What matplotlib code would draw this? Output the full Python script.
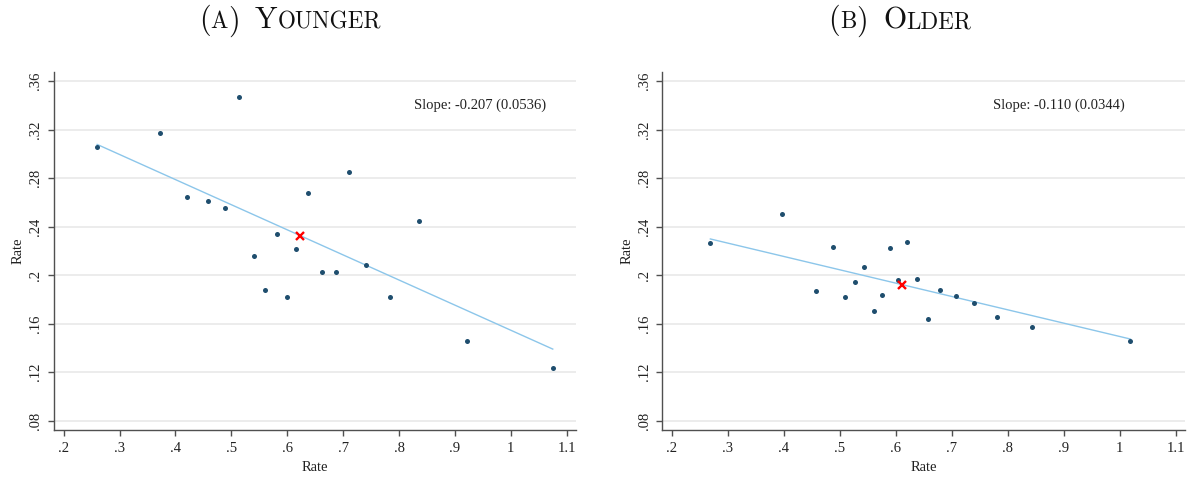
import numpy as np
import matplotlib
matplotlib.use("Agg")
import matplotlib.pyplot as plt
from matplotlib.offsetbox import TextArea, HPacker, DrawingArea, AnchoredOffsetbox

# ---------------- data ----------------
young_x = [0.260, 0.373, 0.514, 0.420, 0.458, 0.488, 0.710, 0.638, 0.836, 0.582,
           0.540, 0.616, 0.741, 0.662, 0.688, 0.560, 0.600, 0.783, 0.921, 1.075]
young_y = [0.3056, 0.3169, 0.3465, 0.2644, 0.2608, 0.2553, 0.2850, 0.2677, 0.2446, 0.2336,
           0.2155, 0.2212, 0.2083, 0.2025, 0.2023, 0.1874, 0.1822, 0.1817, 0.1457, 0.1234]
old_x = [0.269, 0.3975, 0.488, 0.458, 0.5095, 0.5273, 0.544, 0.5607, 0.575, 0.5904,
         0.6047, 0.6202, 0.638, 0.6571, 0.6786, 0.7077, 0.7398, 0.7815, 0.8429, 1.019]
old_y = [0.2262, 0.2504, 0.2234, 0.1866, 0.1817, 0.1943, 0.2069, 0.1701, 0.1838, 0.2221,
         0.1959, 0.2275, 0.1965, 0.1640, 0.1880, 0.1828, 0.1770, 0.1652, 0.1572, 0.1454]
slopes = [-0.207, -0.110]
slope_ses = [0.0536, 0.0344]
panel_letters = ["A", "B"]
panel_names = ["Younger", "Older"]
x_ticks = [0.2, 0.3, 0.4, 0.5, 0.6, 0.7, 0.8, 0.9, 1.0, 1.1]
x_tick_labels = [".2", ".3", ".4", ".5", ".6", ".7", ".8", ".9", "1", "1.1"]
y_ticks = [0.08, 0.12, 0.16, 0.20, 0.24, 0.28, 0.32, 0.36]
y_tick_labels = [".08", ".12", ".16", ".2", ".24", ".28", ".32", ".36"]
axis_label = "Rate"

# ---------------- style ----------------
W, H = 1193, 482
fig = plt.figure(figsize=(W / 100, H / 100), dpi=100)
serif = "Liberation Serif"
dot_color = "#1f4e6e"
line_color = "#8cc6ea"
spine_color = "#505050"
grid_color = "#ebebeb"

axes_px = [(53.5, 71.7, 576.0, 430.0), (662.3, 71.7, 1185.0, 430.0)]
xlims = [(0.1818, 1.1166), (0.1832, 1.1166)]
ylim = (0.0723, 0.3677)
text_right_x = [1.0628, 1.0095]
title_cx = [290, 900]

datasets = [(young_x, young_y), (old_x, old_y)]

for i, ((x0, y0, x1, y1), (xs, ys)) in enumerate(zip(axes_px, datasets)):
    ax = fig.add_axes([x0 / W, 1 - y1 / H, (x1 - x0) / W, (y1 - y0) / H])
    xs = np.asarray(xs); ys = np.asarray(ys)
    mx, my = xs.mean(), ys.mean()
    lx = np.array([xs.min(), xs.max()])
    ax.plot(lx, my + slopes[i] * (lx - mx), color=line_color, lw=1.0, zorder=2)
    ax.scatter(xs, ys, s=13, color=dot_color, zorder=3, linewidths=0)
    ax.plot([mx], [my], marker="x", color="red", ms=5.5, mew=1.7,
            linestyle="none", zorder=4)
    ax.set_xlim(*xlims[i]); ax.set_ylim(*ylim)
    ax.set_xticks(x_ticks); ax.set_xticklabels(x_tick_labels)
    ax.set_yticks(y_ticks); ax.set_yticklabels(y_tick_labels)
    ax.yaxis.grid(True, color=grid_color, lw=1.3, zorder=0)
    ax.set_axisbelow(True)
    for s in ["top", "right"]:
        ax.spines[s].set_visible(False)
    for s in ["left", "bottom"]:
        ax.spines[s].set_color(spine_color)
        ax.spines[s].set_linewidth(1.0)
    ax.tick_params(axis="both", direction="out", length=4.3, width=1.0,
                   color=spine_color, labelsize=10.5, labelcolor="#222222", pad=4)
    for lab in ax.get_xticklabels() + ax.get_yticklabels():
        lab.set_fontfamily(serif)
    for lab in ax.get_yticklabels():
        lab.set_rotation(90)
        lab.set_va("center")
        lab.set_ha("right")
    ax.set_xlabel(axis_label, fontfamily=serif, fontsize=10.5, color="#222222", labelpad=5)
    ax.set_ylabel(axis_label, fontfamily=serif, fontsize=10.5, color="#222222", labelpad=3)
    ax.text(text_right_x[i], 0.3402,
            f"Slope: {slopes[i]:.3f} ({slope_ses[i]:.4f})", ha="right", va="center",
            fontfamily=serif, fontsize=10.5, color="#222222")

    # small-caps title
    big = dict(fontsize=21.5, fontfamily="cmr10", color="#111111")
    small = dict(fontsize=16.7, fontfamily="cmr10", color="#111111")
    name = panel_names[i]
    parts = [TextArea("(", textprops=big), TextArea(panel_letters[i], textprops=small),
             TextArea(")", textprops=big), DrawingArea(11, 1),
             TextArea(name[0].upper(), textprops=big),
             TextArea(name[1:].upper(), textprops=small)]
    box = HPacker(children=parts, align="baseline", pad=0, sep=0)
    anch = AnchoredOffsetbox(loc="center", child=box, pad=0, frameon=False,
                             bbox_to_anchor=(title_cx[i] / W, 1 - 21 / H),
                             bbox_transform=fig.transFigure, borderpad=0)
    fig.add_artist(anch)

fig.savefig("out.png", dpi=100)
